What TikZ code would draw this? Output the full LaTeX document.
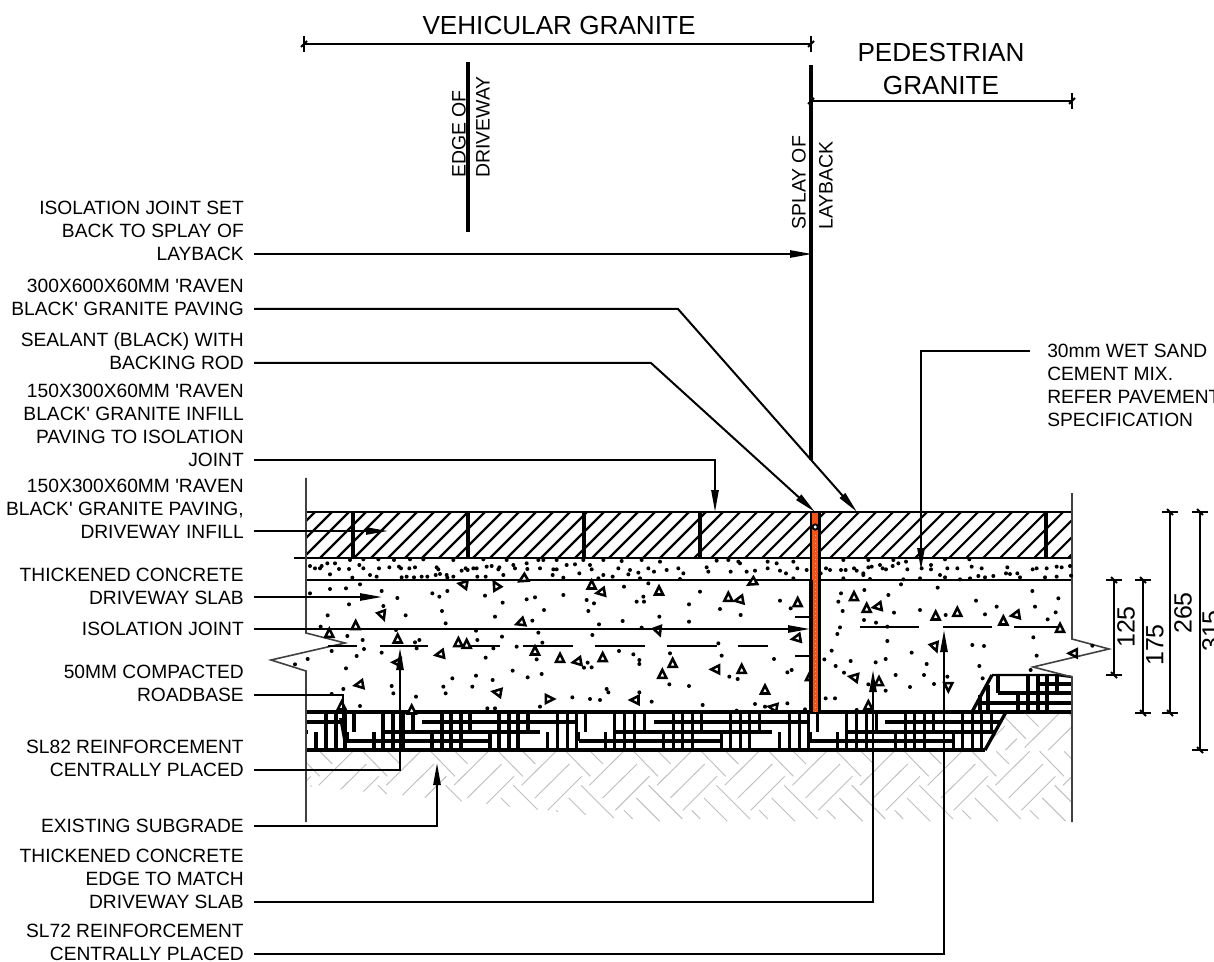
\documentclass[tikz,border=0pt]{standalone}
\usepackage{fontspec}
\newfontfamily\lib{Liberation Sans}
\usetikzlibrary{arrows.meta,calc}
\tikzset{
  lbl/.style={font=\lib\fontsize{14.4}{17.25}\selectfont,inner sep=0pt,align=right,anchor=south east,text=black},
  lblleft/.style={font=\lib\fontsize{14.4}{17.25}\selectfont,inner sep=0pt,align=left,anchor=south west,text=black},
  head/.style={font=\lib\fontsize{19.6}{24}\selectfont,inner sep=0pt,align=center,text=black},
  rotlbl/.style={font=\lib\fontsize{14.6}{17}\selectfont,inner sep=0pt,rotate=90,anchor=west,text=black},
  dimnum/.style={font=\lib\fontsize{18.7}{22}\selectfont,inner sep=0pt,rotate=90,anchor=center,text=black},
  leader/.style={line width=1.5pt,-{Triangle[length=16.5pt,width=5.4pt]},black},
  layer/.style={line width=1.8pt,black},
  thinwall/.style={line width=1.2pt,draw=black!75},
  hatchline/.style={line width=1.6pt,black},
  joint/.style={line width=2.6pt,black},
  rebar/.style={line width=2pt,black},
  rb/.style={line width=2.5pt,black},
  dimline/.style={line width=1.5pt,black},
  gravel/.style={line width=.7pt,draw=black!25},
  tri/.style={line width=1.9pt,draw=black,fill=white,line join=miter},
  splay/.style={line width=2.5pt,black},
}
\newcommand{\htick}[1]{\draw[dimline] ($(#1)+(0,-8)$) -- ($(#1)+(0,8)$); \draw[dimline] ($(#1)+(-3,3)$) -- ($(#1)+(3,-3)$);}
\newcommand{\vtick}[1]{\draw[dimline] ($(#1)+(-8,0)$) -- ($(#1)+(8,0)$); \draw[dimline] ($(#1)+(-3,-3)$) -- ($(#1)+(3,3)$);}
\begin{document}
\begin{tikzpicture}[x=0.75pt,y=-0.75pt]
\useasboundingbox (0,0) rectangle (1214,962);
\clip (0,0) rectangle (1214,962);

%% --- paving hatch
\begin{scope}
\clip (306,512) rectangle (1072,558);
\foreach \k in {0,...,50} {
  \draw[hatchline] ({281+\k*17},512) -- ({281+\k*17-46},558);
}
\end{scope}

%% --- subgrade herringbone
\begin{scope}
\clip (306,750) -- (984,750) -- (1005,712) -- (1072,712) -- (1072,828) -- (720,828) -- (660,823) -- (440,799) -- (306,786) -- cycle;
\foreach \k in {-3,...,10} {
\begin{scope}[shift={({\k*67.67},0)}]
  \draw[gravel] (488.3,751.3) -- (454,785.3);
  \draw[gravel] (501.7,764) -- (467.3,798);
  \draw[gravel] (514,776.3) -- (480,810.3);
  \draw[gravel] (455,751.3) -- (467.7,764);
  \draw[gravel] (498.3,751.3) -- (522.7,776.3);
  \draw[gravel] (513.3,785.3) -- (547,819);
  \draw[gravel] (501,798) -- (524.3,821.3);
  \draw[gravel] (488.7,810.3) -- (497.3,819);
\end{scope}
}
\end{scope}
\begin{scope}
\clip (984,750) -- (1005,712) -- (1072,712) -- (1072,750) -- cycle;
\foreach \k in {-3,...,10} {
\begin{scope}[shift={({\k*67.67+29.3},-37.7)}]
  \draw[gravel] (488.3,751.3) -- (454,785.3);
  \draw[gravel] (501.7,764) -- (467.3,798);
  \draw[gravel] (514,776.3) -- (480,810.3);
  \draw[gravel] (455,751.3) -- (467.7,764);
  \draw[gravel] (498.3,751.3) -- (522.7,776.3);
\end{scope}
}
\end{scope}

%% --- road base tile pattern
\begin{scope}
\clip (306,711) -- (1006,711) -- (984,751) -- (306,751) -- cycle;
\foreach \s in {-231.7,0,231.7,463.4,695.1} {
\begin{scope}[shift={(\s,0)}]
  \foreach \x in {326,336,345,383,393,403,442,451,461,499,509,518} \draw[rb] (\x,712) -- (\x,750);
  \foreach \x in {316,374,432,490} \draw[rb] (\x,732) -- (\x,750);
  \foreach \x in {354,413,470,528} \draw[rb] (\x,712) -- (\x,732);
  \draw[rb] (347,732) -- (347,741);
  \draw[rb] (422,722) -- (576,722);
  \draw[rb] (383,732) -- (540,732);
  \draw[rb] (347,741) -- (490,741);
\end{scope}
}
\end{scope}
\draw[rb] (306,750) -- (985,750);
\draw[rb] (1006,712) -- (985,750);
\draw[rb] (306,712) -- (1072,712);
\draw[rb] (992,675) -- (972,712);
\draw[layer] (992,675) -- (1057,675) -- (1072,677);
\foreach \y/\a in {684/1038,693/998,703/980} \draw[rb] (\a,\y) -- (1072,\y);
\foreach \x/\a/\b in {998/675/693,1028/675/712,1038/675/712,1047/675/712,1057/675/693,1018/693/712,988/685/712,980/695/712} \draw[rb] (\x,\a) -- (\x,\b);

%% --- layer lines
\draw[layer] (306,512) -- (1072,512);
\draw[layer] (294,558) -- (1072,558);
\draw[layer] (306,580) -- (1072,580);
\foreach \x in {353,468,584,700,1046} \draw[joint] (\x,512) -- (\x,558);

%% --- walls with break lines
\draw[thinwall] (306,478) -- (306,633) -- (345,643) -- (271,660) -- (306,671) -- (306,822);
\draw[thinwall] (1072,493) -- (1072,639) -- (1109,649) -- (1033,667) -- (1072,677) -- (1072,822);

%% --- reinforcement
\foreach \a/\b in {328/357,380/428,467/500,523/573,595/645,667/717,738/768} \draw[rebar] (\a,646) -- (\b,646);
\foreach \a/\b in {860/919,943/992,1014/1062} \draw[rebar] (\a,627) -- (\b,627);
\draw[rebar] (795,617) -- (811,617);
\draw[rebar] (795,656) -- (811,656);

%% --- sand and concrete dots (left)
\foreach \a/\b in {60/258,75/265,95/258,90/265,112/250,135/250,120/283,147/267,177/267,208/255,220/265,240/285,260/290,267/265,298/262,327/260,333/265,358/265,375/262,187/293,350/290,335/292,372/292,395/290,412/290,440/262,445/268,437/285,450/282,470/285,490/290,472/293,515/272,527/265,533/270,550/265,560/265,590/260,605/258,628/262,625/268,670/255,675/265,710/250,712/267,750/265,790/268,800/268,830/255,855/253,900/255,905/268,788/285,820/293,868/280,925/295,940/285,968/290,985/265,1020/270,1045/278,1015/283,1050/295,1075/265,1092/275,1110/245,1130/270,1165/265,1180/280,1170/297,562/290,587/290,640/285,700/295,180/240,220/238,265/238,312/240,360/238,400/238,490/240,580/238,650/240,745/240,760/240,800/240,880/240,940/240,995/243,1055/240,
60/340,120/327,168/325,210/313,275/333,322/354,177/373,280/378,113/406,347/406,92/440,172/468,218/480,222/507,125/513,318/450,275/518,200/528,53/537,15/553,168/565,305/618,310/640,160/627,125/642,210/678,378/650,375/487,388/480,380/505,427/340,448/350,472/333,456/393,467/430,585/347,638/368,615/410,710/358,735/352,762/390,820/345,727/422,890/360,912/370,895/393,927/433,1002/320,1075/310,1040/365,1060/350,1062/365,998/423,1108/410,1055/443,1197/373,1197/425,558/452,562/480,636/470,610/505,680/500,587/533,757/488,745/458,740/538,907/465,987/513,1030/523,1048/540,1048/552,1140/520,882/563,905/562,893/548,668/572,713/592,755/582,558/587,608/600,487/595,460/620,467/640,547/620,950/627,955/637,1048/637,1085/665,847/652,900/657,930/660,750/680,592/685,615/685,1138/613,1197/618}
  \fill ({290+\a/3},{480+\b/3}) circle (2);
%% --- dots (right)
\foreach \a/\b in {20/262,25/275,50/242,85/240,115/245,120/250,92/275,140/275,165/272,203/245,203/265,230/250,240/272,258/280,280/245,292/265,320/270,280/295,362/280,378/265,390/270,423/270,437/270,430/240,462/265,470/272,490/280,505/240,505/262,515/260,540/255,548/265,558/268,580/240,578/258,595/250,618/245,622/268,665/265,693/255,693/268,735/238,742/265,772/265,808/238,815/260,845/265,922/262,918/280,952/280,998/268,1010/265,1040/265,1070/260,1085/262,1110/258,1113/287,1070/290,1035/292,960/292,930/282,880/288,855/292,835/288,810/295,780/298,720/285,735/292,660/295,610/298,510/297,490/285,430/295,
0/335,60/387,122/405,240/362,272/385,55/490,65/527,222/537,262/577,275/570,88/590,113/597,8/675,165/672,195/680,262/670,315/688,110/692,423/340,415/365,428/393,493/330,565/345,582/398,660/390,713/323,603/313,997/333,1075/355,1005/380,1067/397,1043/418,890/380,855/403,828/362,737/405,492/420,528/428,562/440,420/442,412/462,395/512,373/538,407/558,432/578,452/543,527/547,557/537,562/483,635/518,680/552,672/585,587/585,630/621,505/613,557/632,702/612,742/590,848/595,817/495,852/498,1000/472,1010/527,1177/497,992/570,838/558,377/655,405/655,470/690}
  \fill ({700+\a/3},{480+\b/3}) circle (2);

%% --- aggregate triangles (left)
\foreach \a/\b/\r in {118/460/0,197/437/0,277/405/200,208/614/100,155/678/0,323/477/0,322/547/90,365/690/0,505/488/0,530/493/0,450/523/100,520/313/80,618/317/30,622/637/80,692/428/110,735/513/0,810/535/0,862/545/100,938/533/0,905/315/0,933/337/100,1107/333/0,1105/452/200,700/297/120,1148/550/0,1117/583/0,1035/660/90,778/657/270}
  \draw[tri,shift={({290+\a/3},{480+\b/3})},rotate=\r] (-4,3.5) -- (4,3.5) -- (0,-4.5) -- cycle;
%% --- aggregate triangles (right)
\foreach \a/\b/\r in {85/352/0,118/360/100,293/368/0,290/475/100,157/307/120,125/568/0,47/568/90,195/630/0,220/682/80,330/590/0,462/350/0,500/385/0,533/380/100,707/408/0,772/397/0,910/423/0,947/405/100,1080/445/0,705/500/200,1120/520/90,462/592/80,537/605/0,505/677/0,745/620/180}
  \draw[tri,shift={({700+\a/3},{480+\b/3})},rotate=\r] (-4,3.5) -- (4,3.5) -- (0,-4.5) -- cycle;

%% --- isolation joint
\fill[fill=white] (811,512) rectangle (819.5,712);
\fill[fill={rgb,255:red,240;green,84;blue,24}] (811.5,513) rectangle (819,712);
\draw[line width=.5pt,dash pattern=on 1pt off 2pt,draw={rgb,255:red,250;green,170;blue,130}] (815.2,535) -- (815.2,712);
\draw[layer] (811,512) -- (811,580);
\draw[line width=2.6pt,black] (811,580) -- (811,712);
\draw[layer] (819.5,512) -- (819.5,712);
\draw[line width=1.4pt,draw=black,fill=white] (815.2,527) circle (2.6);
\draw[layer] (812,512) -- (819,512);

%% --- top reference lines and dimensions
\draw[splay] (468,62) -- (468,232);
\draw[splay] (811,65) -- (811,460);
\coordinate (vl) at (304,44); \coordinate (vr) at (811,44);
\coordinate (pl) at (811,101); \coordinate (pr) at (1072,101);
\draw[dimline] (vl) -- (vr); \htick{vl} \htick{vr}
\draw[dimline] (pl) -- (pr); \htick{pl} \htick{pr}
\node[head,anchor=base] (vg) at (559,35) {VEHICULAR GRANITE};
\node[head,anchor=center] (pg) at (941,69) {PEDESTRIAN\\[1.2pt]GRANITE};
\node[rotlbl] (edge) at (459,178) {EDGE OF};
\node[rotlbl] (drive) at (483,178) {DRIVEWAY};
\node[rotlbl] (splayof) at (799,230) {SPLAY OF};
\node[rotlbl] (layback) at (826,230) {LAYBACK};

%% --- right dimensions
\coordinate (d1a) at (1114,580); \coordinate (d1b) at (1114,675);
\coordinate (d2a) at (1143,580); \coordinate (d2b) at (1143,713);
\coordinate (d3a) at (1170,512); \coordinate (d3b) at (1170,713);
\coordinate (d4a) at (1200,512); \coordinate (d4b) at (1200,750);
\foreach \d in {1,2,3,4} { \draw[dimline] (d\d a) -- (d\d b); \vtick{d\d a} \vtick{d\d b} }
\node[dimnum] (n125) at (1126,627) {125};
\node[dimnum] (n175) at (1155,645) {175};
\node[dimnum] (n265) at (1183,613) {265};
\node[dimnum] (n315) at (1211,631) {315};

%% --- labels
\node[lbl] (l1) at (244,261) {ISOLATION JOINT SET\\BACK TO SPLAY OF\\LAYBACK};
\node[lbl] (l2) at (244,316) {300X600X60MM 'RAVEN\\BLACK' GRANITE PAVING};
\node[lbl] (l3) at (244,370) {SEALANT (BLACK) WITH\\BACKING ROD};
\node[lbl] (l4) at (244,467) {150X300X60MM 'RAVEN\\BLACK' GRANITE INFILL\\PAVING TO ISOLATION\\JOINT};
\node[lbl] (l5) at (244,539) {150X300X60MM 'RAVEN\\BLACK' GRANITE PAVING,\\DRIVEWAY INFILL};
\node[lbl] (l6) at (244,605) {THICKENED CONCRETE\\DRIVEWAY SLAB};
\node[lbl] (l7) at (244,636) {ISOLATION JOINT};
\node[lbl] (l8) at (244,702) {50MM COMPACTED\\ROADBASE};
\node[lbl] (l9) at (244,777) {SL82 REINFORCEMENT\\CENTRALLY PLACED};
\node[lbl] (l10) at (244,833) {EXISTING SUBGRADE};
\node[lbl] (l11) at (244,909) {THICKENED CONCRETE\\EDGE TO MATCH\\DRIVEWAY SLAB};
\node[lbl] (l12) at (244,961) {SL72 REINFORCEMENT\\CENTRALLY PLACED};
\node[lblleft] (r1) at (1047,427) {30mm WET SAND\\CEMENT MIX.\\REFER PAVEMENT\\SPECIFICATION};

%% --- leaders
\coordinate (s1) at (254,254); \coordinate (e1) at (812,254);
\draw[leader] (s1) -- (e1);
\coordinate (s2) at (254,309); \coordinate (b2) at (678,309); \coordinate (e2) at (857,512);
\draw[leader] (s2) -- (b2) -- (e2);
\coordinate (s3) at (254,363); \coordinate (b3) at (651,363); \coordinate (e3) at (815,512);
\draw[leader] (s3) -- (b3) -- (e3);
\coordinate (s4) at (254,460); \coordinate (b4) at (715,460); \coordinate (e4) at (715,512);
\draw[leader] (s4) -- (b4) -- (e4);
\coordinate (s5) at (254,531); \coordinate (e5) at (388,531);
\draw[leader] (s5) -- (e5);
\coordinate (s6) at (254,597); \coordinate (e6) at (382,597);
\draw[leader] (s6) -- (e6);
\coordinate (s7) at (254,629); \coordinate (e7) at (810,629);
\draw[leader] (s7) -- (e7);
\coordinate (s8) at (254,695); \coordinate (b8) at (343,695); \coordinate (e8) at (343,740);
\draw[leader] (s8) -- (b8) -- (e8);
\coordinate (s9) at (254,770); \coordinate (b9) at (400,770); \coordinate (e9) at (400,648);
\draw[leader] (s9) -- (b9) -- (e9);
\coordinate (s10) at (254,826); \coordinate (b10) at (437,826); \coordinate (e10) at (437,763);
\draw[leader] (s10) -- (b10) -- (e10);
\coordinate (s11) at (254,902); \coordinate (b11) at (873,902); \coordinate (e11) at (873,670);
\draw[leader] (s11) -- (b11) -- (e11);
\coordinate (s12) at (254,954); \coordinate (b12) at (944,954); \coordinate (e12) at (944,630);
\draw[leader] (s12) -- (b12) -- (e12);
\coordinate (sr) at (1030,351); \coordinate (br) at (921,351); \coordinate (er) at (921,570);
\draw[leader] (sr) -- (br) -- (er);
\end{tikzpicture}
\end{document}
